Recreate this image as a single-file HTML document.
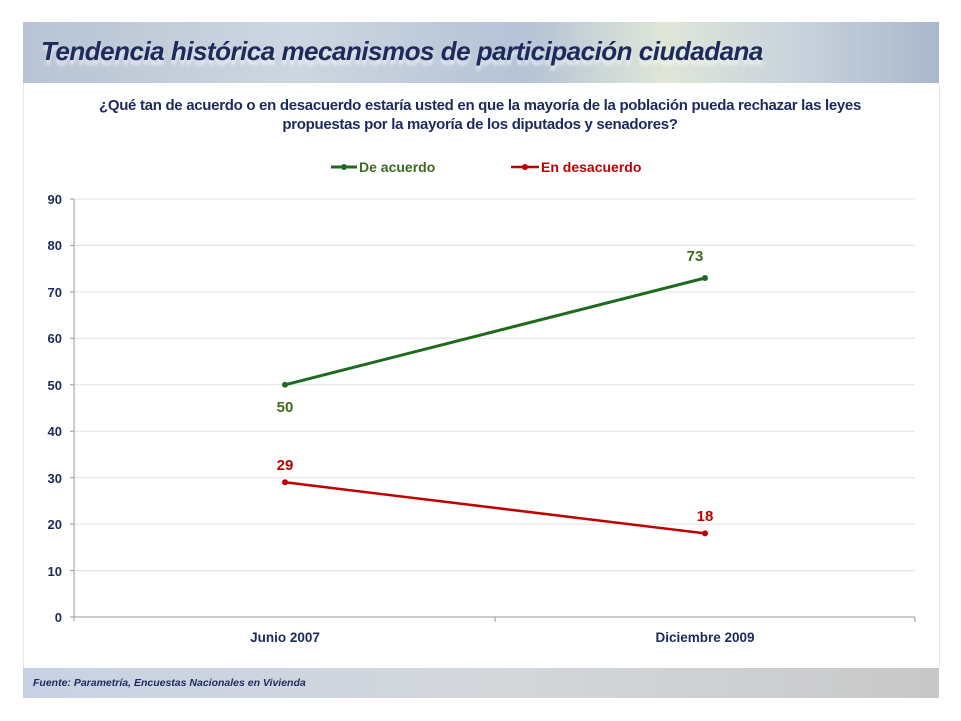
<!DOCTYPE html><html><head><meta charset="utf-8"><style>
body{margin:0;width:961px;height:721px;background:#fff;position:relative;font-family:"Liberation Sans",sans-serif;overflow:hidden}
.ban{position:absolute;left:23px;top:22px;width:916px;height:61px;background:linear-gradient(90deg,#b8c4d4 0%,#cdd6e0 30%,#b5c3d6 55%,#dfe6d8 70%,#c8d2dc 85%,#aab8cc 100%)}
.ban h1{position:absolute;left:18px;top:14px;margin:0;font-size:26px;font-style:italic;font-weight:bold;color:#1c2a5c;letter-spacing:-0.5px;text-shadow:0 5px 3px rgba(255,255,255,.6)}
.box{position:absolute;left:23px;top:83px;width:915px;height:585px;border:1px solid #e4e8f0;border-top:none}
.q{position:absolute;left:40px;width:880px;top:96px;text-align:center;font-size:15px;font-weight:bold;color:#1c2a5c;line-height:19px;letter-spacing:-0.3px}
.foot{position:absolute;left:23px;top:668px;width:916px;height:30px;background:linear-gradient(90deg,#c8d2e4,#d4d8dc,#c8c8c8)}
.foot span{position:absolute;left:10px;top:9px;font-size:10.5px;font-style:italic;font-weight:bold;color:#1c2a5c}
</style></head><body>
<div class="ban"><h1>Tendencia histórica mecanismos de participación ciudadana</h1></div>
<div class="box"></div>
<div class="q">¿Qué tan de acuerdo o en desacuerdo estaría usted en que la mayoría de la población pueda rechazar las leyes<br>propuestas por la mayoría de los diputados y senadores?</div>
<svg width="961" height="721" style="position:absolute;left:0;top:0" font-family="Liberation Sans,sans-serif" font-weight="bold">
<g stroke="#e0e0e0" stroke-width="1">
<line x1="74" x2="915" y1="199" y2="199"/><line x1="74" x2="915" y1="245.4" y2="245.4"/><line x1="74" x2="915" y1="291.9" y2="291.9"/><line x1="74" x2="915" y1="338.3" y2="338.3"/><line x1="74" x2="915" y1="384.8" y2="384.8"/><line x1="74" x2="915" y1="431.2" y2="431.2"/><line x1="74" x2="915" y1="477.7" y2="477.7"/><line x1="74" x2="915" y1="524.1" y2="524.1"/><line x1="74" x2="915" y1="570.6" y2="570.6"/>
</g>
<g stroke="#999" stroke-width="1"><line x1="74" x2="74" y1="199" y2="621"/><line x1="70" x2="915" y1="617" y2="617"/><line x1="495" x2="495" y1="617" y2="622"/><line x1="915" x2="915" y1="617" y2="622"/>
<line x1="70" x2="74" y1="199" y2="199"/><line x1="70" x2="74" y1="245.4" y2="245.4"/><line x1="70" x2="74" y1="291.9" y2="291.9"/><line x1="70" x2="74" y1="338.3" y2="338.3"/><line x1="70" x2="74" y1="384.8" y2="384.8"/><line x1="70" x2="74" y1="431.2" y2="431.2"/><line x1="70" x2="74" y1="477.7" y2="477.7"/><line x1="70" x2="74" y1="524.1" y2="524.1"/><line x1="70" x2="74" y1="570.6" y2="570.6"/></g>
<g font-size="13" fill="#1c2a5c" text-anchor="end">
<text x="62" y="204">90</text><text x="62" y="250">80</text><text x="62" y="297">70</text><text x="62" y="343">60</text><text x="62" y="390">50</text><text x="62" y="436">40</text><text x="62" y="483">30</text><text x="62" y="529">20</text><text x="62" y="576">10</text><text x="62" y="622">0</text></g>
<g font-size="13.5" fill="#1c2a5c" text-anchor="middle"><text x="285" y="642">Junio 2007</text><text x="705" y="642">Diciembre 2009</text></g>
<polyline points="285,384.8 705,278" fill="none" stroke="#1e6b1e" stroke-width="3"/>
<polyline points="285,482.3 705,533.4" fill="none" stroke="#c00000" stroke-width="2.5"/>
<circle cx="285" cy="384.8" r="3" fill="#1e6b1e"/><circle cx="705" cy="278" r="3" fill="#1e6b1e"/>
<circle cx="285" cy="482.3" r="3" fill="#c00000"/><circle cx="705" cy="533.4" r="3" fill="#c00000"/>
<g font-size="15" text-anchor="middle"><text x="285" y="412" fill="#3d6b1e">50</text><text x="695" y="261" fill="#3d6b1e">73</text><text x="285" y="470" fill="#c00000">29</text><text x="705" y="521" fill="#c00000">18</text></g>
<line x1="331" x2="357" y1="167" y2="167" stroke="#1e6b1e" stroke-width="3"/><circle cx="344" cy="167" r="3" fill="#1e6b1e"/>
<text x="359" y="172" font-size="14" fill="#3d6b1e">De acuerdo</text>
<line x1="511" x2="539" y1="167" y2="167" stroke="#c00000" stroke-width="2.5"/><circle cx="525" cy="167" r="3" fill="#c00000"/>
<text x="541" y="172" font-size="14" fill="#c00000">En desacuerdo</text>
</svg>
<div class="foot"><span>Fuente: Parametría, Encuestas Nacionales en Vivienda</span></div>
</body></html>
